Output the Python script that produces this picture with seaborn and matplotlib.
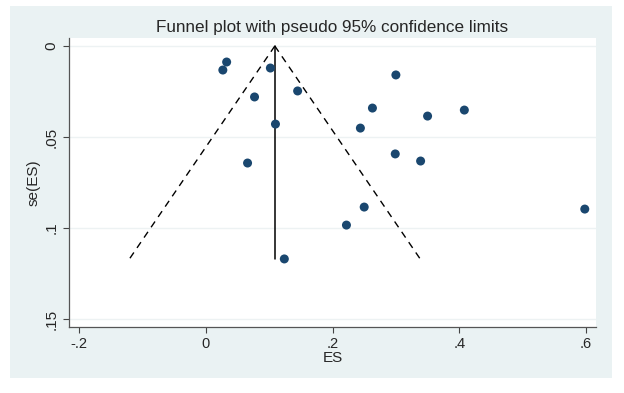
import numpy as np
import pandas as pd
import matplotlib
matplotlib.use("Agg")
import matplotlib.pyplot as plt
from matplotlib.patches import Rectangle
import seaborn as sns

# Estudios: tamano del efecto (ES) y su error estandar se(ES)
es = [0.033, 0.027, 0.102, 0.077, 0.145, 0.110, 0.066, 0.300, 0.263,
      0.244, 0.350, 0.408, 0.299, 0.339, 0.250, 0.222, 0.598, 0.124]
se = [0.0088, 0.0132, 0.0121, 0.0280, 0.0247, 0.0429, 0.0643, 0.0159, 0.0341,
      0.0451, 0.0385, 0.0352, 0.0593, 0.0632, 0.0885, 0.0984, 0.0896, 0.1170]

# Efecto combinado (linea vertical)
pooled = 0.109

x_ticks = [-0.2, 0, 0.2, 0.4, 0.6]
x_labels = ["-.2", "0", ".2", ".4", ".6"]
y_ticks = [0, 0.05, 0.1, 0.15]
y_labels = ["0", ".05", ".1", ".15"]

data = pd.DataFrame({"ES": es, "se": se})

# Limites del embudo (pseudo IC 95%)
se_max = max(se)
funnel = pd.DataFrame({
    "se": [0, se_max, 0, se_max],
    "ES": [pooled, pooled - 1.96 * se_max, pooled, pooled + 1.96 * se_max],
    "lado": ["izq", "izq", "der", "der"],
})

sns.set_theme(style="white")
plt.rcParams["font.family"] = ["Liberation Sans", "DejaVu Sans"]

fig = plt.figure(figsize=(6.24, 3.93), dpi=100, facecolor="white")
fig.patches.append(Rectangle((10 / 624, 1 - 378 / 393), 602 / 624, 372 / 393,
                             transform=fig.transFigure, facecolor="#eaf2f3",
                             edgecolor="none", zorder=-10))
ax = fig.add_axes([69 / 624, 1 - 327 / 393, 527 / 624, 289 / 393])
ax.set_facecolor("white")

for yt in y_ticks:
    ax.axhline(yt, color="#edf2f3", lw=1.0, zorder=0)

sns.lineplot(data=funnel, x="ES", y="se", units="lado", estimator=None,
             sort=False, color="black", lw=1.0, dashes=False,
             linestyle=(0, (5, 4)), ax=ax)
ax.plot([pooled, pooled], [0, se_max], color="black", lw=1.1)

sns.scatterplot(data=data, x="ES", y="se", color="#1a476f", s=42,
                edgecolor="none", ax=ax, zorder=3)

ax.set_xlim(-0.2157, 0.6157)
ax.set_ylim(0.1544, -0.0044)
ax.set_xticks(x_ticks)
ax.set_xticklabels(x_labels, fontsize=10.5)
ax.set_yticks(y_ticks)
ax.set_yticklabels(y_labels, fontsize=11, rotation=90, va="center")
ax.tick_params(axis="both", which="major", direction="out", length=4.5,
               width=0.8, color="#444444", bottom=True, left=True, pad=3)
ax.set_xlabel("ES", fontsize=11, labelpad=0)
ax.set_ylabel("se(ES)", fontsize=11, labelpad=3)
ax.set_title("Funnel plot with pseudo 95% confidence limits", fontsize=12.3, pad=4)

for side in ["top", "right"]:
    ax.spines[side].set_visible(False)
for side in ["left", "bottom"]:
    ax.spines[side].set_color("#555555")
    ax.spines[side].set_linewidth(0.9)

fig.savefig("out.png", dpi=100, facecolor="white")
